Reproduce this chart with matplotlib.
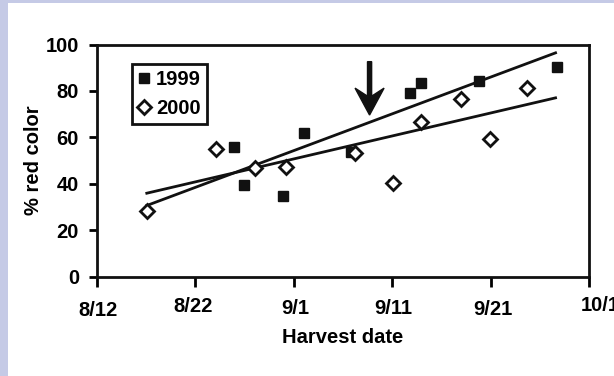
"""Porcentaje de color rojo segun fecha de cosecha (1999 y 2000)."""
import matplotlib
matplotlib.use("Agg")
import matplotlib.pyplot as plt
from matplotlib.patches import Rectangle
from matplotlib.transforms import ScaledTranslation

# dias contados desde el 12 de agosto
dias_1999 = [13.9, 14.9, 18.9, 21.0, 25.8, 31.8, 32.9, 38.8, 46.7]
rojo_1999 = [55.7, 39.3, 34.6, 61.7, 53.8, 79.3, 83.6, 84.1, 90.1]

dias_2000 = [5.1, 12.1, 16.1, 19.2, 26.2, 30.1, 32.9, 37.0, 39.9, 43.7]
rojo_2000 = [28.1, 55.1, 46.9, 47.1, 53.4, 40.5, 66.7, 76.6, 59.3, 81.3]

# extremos de las rectas de tendencia
dias_tend = [5.06, 46.6]
tend_1999 = [30.6, 96.4]
tend_2000 = [35.9, 77.0]

# flecha (dia, desde, hasta)
flecha_dia, flecha_y0, flecha_y1 = 27.7, 92.6, 69.6

ticks_x = [0, 10, 20, 30, 40, 50]
etiquetas_x = ["8/12", "8/22", "9/1", "9/11", "9/21", "10/1"]
ticks_y = [0, 20, 40, 60, 80, 100]

plt.rcParams["font.family"] = ["Liberation Sans", "DejaVu Sans"]
plt.rcParams["font.weight"] = "bold"
tam = 14.5

fig = plt.figure(figsize=(6.14, 3.76), dpi=100, facecolor="#c5cae6")
fondo = Rectangle((7.5 / 614, 0), 1, 1 - 3 / 376, transform=fig.transFigure,
                  facecolor="white", edgecolor="none", zorder=-10)
fig.add_artist(fondo)
ax = fig.add_axes([97 / 614, 1 - 276.5 / 376, 492 / 614, 232 / 376])
ax.set_zorder(1)

ax.plot(dias_tend, tend_1999, color="#111111", lw=2, zorder=2)
ax.plot(dias_tend, tend_2000, color="#111111", lw=2, zorder=2)
ax.plot(dias_1999, rojo_1999, ls="none", marker="s", ms=7, color="#111111",
        label="1999", zorder=3)
ax.plot(dias_2000, rojo_2000, ls="none", marker="D", ms=7.5, mfc="white",
        mec="#111111", mew=2, label="2000", zorder=4)

ax.arrow(flecha_dia, flecha_y0, 0, flecha_y1 - flecha_y0, width=0.42,
         head_width=2.95, head_length=11.6, overhang=0.3,
         length_includes_head=True, color="#111111", zorder=5)

ax.set_xlim(0, 50)
ax.set_ylim(0, 100)
ax.set_xticks(ticks_x)
ax.set_xticklabels(etiquetas_x)
ax.set_yticks(ticks_y)

for s in ax.spines.values():
    s.set_linewidth(2)
    s.set_color("#111111")
ax.tick_params(axis="x", length=7, width=2, pad=9, labelsize=tam)
ax.tick_params(axis="y", length=6, width=2, pad=7, labelsize=tam)

# pequeno desfase vertical/horizontal de cada fecha (como en el original)
desfases = [(1, -2), (-2, 1.5), (1, 0), (1, 0), (2, -1), (11, 2.5)]
for lab, (dx, dy) in zip(ax.get_xticklabels(), desfases):
    lab.set_transform(lab.get_transform() +
                      ScaledTranslation(dx / 100, dy / 100, fig.dpi_scale_trans))

ax.set_xlabel("Harvest date", fontsize=tam, fontweight="bold", labelpad=6)
ax.set_ylabel("% red color", fontsize=tam, fontweight="bold", labelpad=2)

leg = ax.legend(loc="upper left", bbox_to_anchor=(0.0705, 0.915),
                borderaxespad=0, frameon=True, fancybox=False,
                edgecolor="#111111", framealpha=1, fontsize=tam,
                handlelength=0.6, handletextpad=0.3, labelspacing=0.5,
                borderpad=0.3, markerscale=1.0)
leg.get_frame().set_linewidth(2)

fig.savefig("out.png", dpi=100, facecolor=fig.get_facecolor())
